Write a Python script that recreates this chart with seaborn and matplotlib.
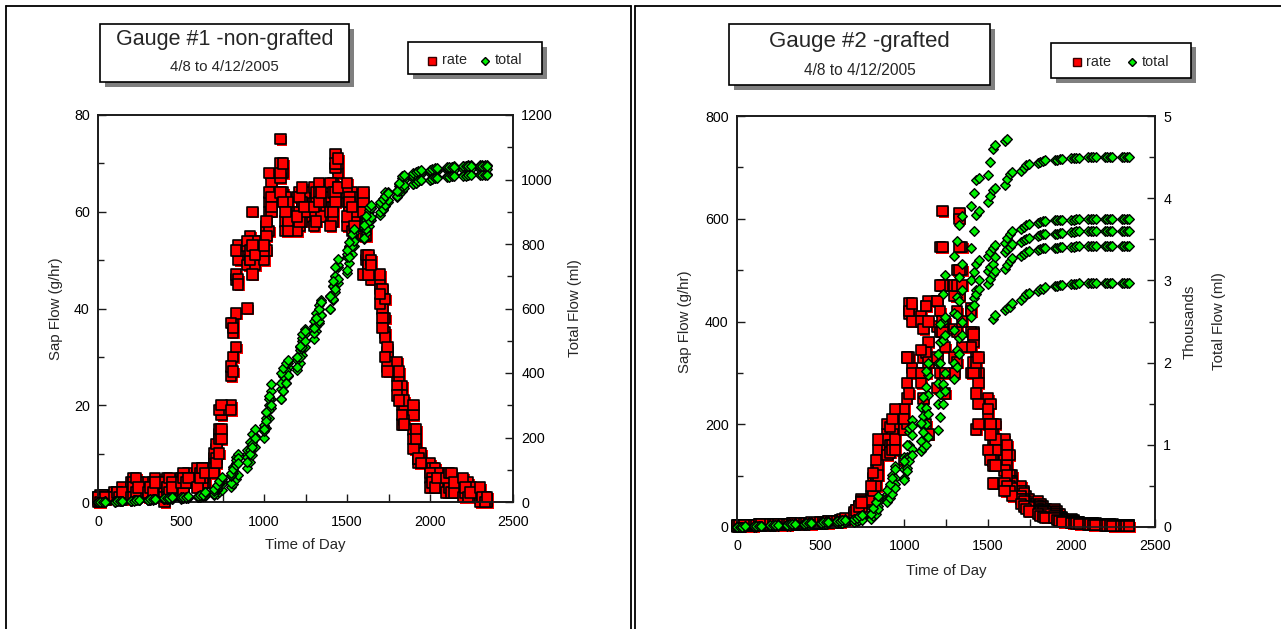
import numpy as np
import pandas as pd
import matplotlib
matplotlib.use("Agg")
import matplotlib.pyplot as plt
import matplotlib.patheffects as pe
from matplotlib.patches import Rectangle
from matplotlib.lines import Line2D
from matplotlib.ticker import MultipleLocator
import seaborn as sns

# ---------------- data (15-minute readings, time of day as HHMM) ----------------
TIMES = [0, 15, 30, 45, 100, 115, 130, 145, 200, 215, 230, 245,
         300, 315, 330, 345, 400, 415, 430, 445, 500, 515, 530, 545,
         600, 615, 630, 645, 700, 715, 730, 745, 800, 815, 830, 845,
         900, 915, 930, 945, 1000, 1015, 1030, 1045, 1100, 1115, 1130, 1145,
         1200, 1215, 1230, 1245, 1300, 1315, 1330, 1345, 1400, 1415, 1430, 1445,
         1500, 1515, 1530, 1545, 1600, 1615, 1630, 1645, 1700, 1715, 1730, 1745,
         1800, 1815, 1830, 1845, 1900, 1915, 1930, 1945, 2000, 2015, 2030, 2045,
         2100, 2115, 2130, 2145, 2200, 2215, 2230, 2245, 2300, 2315, 2330, 2345]

# Gauge #1 (non-grafted): sap flow rate, g/hr, one list per day
g1_rate_d1 = [1, 0.5, 1, 1.5, 1, 2, 1, 0.5, 2, 3, 2, 1.5,
              2, 1, 2, 3, 3, 4, 3, 2, 4, 3, 5, 4,
              5, 5, 6, 4, 8, 11, 14, 18, 26, 35, 46, 50,
              52, 50, 54, 52, 54, 57, 62, 66, 70, 64, 58, 60,
              60, 64, 62, 59, 62, 58, 60, 63, 63, 66, 72, 68,
              62, 60, 64, 58, 55, 50, 48, 46, 45, 40, 35, 30,
              28, 24, 20, 18, 15, 12, 9, 8, 7, 6, 5, 4,
              4, 3, 3, 2, 2, 2, 1, 1, 1, 1, 0.5, 0.5]
g1_rate_d2 = [0.5, 1, 0.5, 1, 2, 1, 2, 3, 4, 5, 4, 3,
              3, 2, 3, 4, 4, 5, 2, 3, 5, 4, 5, 6,
              6, 5, 4, 6, 9, 10, 15, 19, 20, 30, 47, 52,
              49, 55, 60, 53, 52, 56, 60, 64, 75, 68, 62, 57,
              57, 60, 62, 64, 65, 62, 60, 61, 66, 64, 69, 65,
              64, 62, 58, 61, 62, 57, 50, 48, 44, 42, 38, 31,
              26, 25, 24, 20, 18, 14, 10, 9, 8, 7, 7, 6,
              6, 5, 4, 3, 3, 2, 2, 1, 1, 1, 0, 0]
g1_rate_d3 = [1, 1.5, 1, 0.5, 1, 2, 1, 1.5, 3, 4, 3, 4,
              4, 3, 4, 5, 4, 3, 2, 4, 5, 6, 5, 4,
              4, 6, 7, 6, 10, 12, 19, 20, 28, 37, 39, 53,
              53, 50, 51, 49, 50, 52, 56, 60, 67, 63, 56, 58,
              63, 57, 58, 60, 60, 64, 66, 62, 59, 61, 64, 70,
              57, 60, 63, 59, 47, 51, 51, 47, 41, 38, 34, 28,
              24, 22, 16, 17, 13, 11, 8, 9, 5, 6, 4, 6,
              3, 4, 5, 3, 4, 2, 3, 2, 2, 1, 1, 0.5]
g1_rate_d4 = [0, 0.5, 1.5, 1, 1, 2, 0.5, 1, 2, 3, 5, 2,
              1, 2, 1, 1, 1, 3, 5, 4, 3, 2, 4, 5,
              7, 6, 5, 7, 7, 9, 13, 15, 37, 36, 52, 46,
              40, 50, 47, 54, 52, 55, 64, 63, 68, 70, 63, 62,
              56, 58, 62, 60, 57, 61, 64, 59, 60, 58, 62, 65,
              66, 63, 56, 60, 64, 55, 49, 50, 47, 44, 42, 32,
              29, 27, 22, 21, 20, 15, 9, 10, 6, 5, 4, 3,
              2, 3, 2, 2, 1, 2, 4, 3, 0, 1, 1, 0]
g1_rate_d5 = [1, 0, 0.5, 1, 1, 2, 1, 2, 1, 1, 2, 3,
              2, 3, 2, 4, 0, 1, 2, 3, 4, 5, 4, 5,
              3, 5, 7, 6, 6, 8, 10, 13, 19, 27, 32, 45,
              54, 52, 53, 51, 53, 58, 68, 61, 64, 62, 60, 56,
              59, 63, 65, 61, 61, 58, 62, 64, 57, 60, 70, 71,
              59, 62, 61, 57, 60, 58, 47, 49, 43, 36, 30, 27,
              22, 21, 18, 16, 11, 13, 9, 8, 3, 4, 3, 5,
              5, 6, 6, 4, 5, 3, 1, 2, 3, 1, 0, 1]

# Gauge #1: total flow, ml
g1_total_d1 = [0, 0, 1, 1, 2, 2, 3, 3, 4, 5, 5, 6,
               6, 7, 7, 8, 8, 9, 9, 10, 10, 11, 12, 13,
               15, 16, 18, 20, 22, 26, 30, 38, 45, 55, 70, 85,
               105, 125, 145, 170, 200, 230, 260, 290, 320, 345, 370, 390,
               410, 430, 455, 480, 505, 530, 555, 580, 600, 625, 650, 680,
               710, 740, 770, 795, 815, 835, 855, 875, 890, 905, 918, 930,
               945, 955, 965, 975, 985, 990, 995, 998, 1000, 1003, 1005, 1008,
               1010, 1011, 1012, 1013, 1014, 1015, 1015, 1016, 1016, 1016, 1016, 1016]
g1_total_d2 = [0, 1, 1, 2, 2, 3, 3, 4, 4, 5, 6, 6,
               7, 8, 8, 9, 10, 10, 11, 12, 12, 13, 14, 15,
               17, 19, 21, 24, 28, 38, 50, 55, 60, 90, 120, 135,
               150, 165, 185, 205, 230, 260, 300, 320, 350, 375, 400, 420,
               440, 470, 500, 520, 545, 570, 600, 620, 640, 670, 700, 730,
               760, 790, 815, 840, 860, 880, 900, 912, 925, 938, 950, 958,
               965, 980, 995, 1000, 1005, 1010, 1015, 1018, 1020, 1023, 1025, 1027,
               1028, 1029, 1030, 1031, 1032, 1032, 1033, 1033, 1034, 1034, 1034, 1034]
g1_total_d3 = [0, 0, 0, 1, 1, 2, 2, 3, 4, 5, 6, 6,
               7, 7, 8, 8, 9, 9, 10, 10, 11, 12, 13, 14,
               15, 16, 18, 21, 25, 40, 55, 65, 80, 110, 140, 150,
               160, 185, 210, 225, 240, 280, 320, 345, 370, 390, 410, 430,
               450, 480, 510, 535, 560, 585, 610, 625, 640, 670, 700, 735,
               770, 795, 820, 835, 850, 875, 905, 912, 920, 940, 960, 962,
               965, 985, 1005, 1008, 1010, 1015, 1020, 1022, 1025, 1028, 1030, 1033,
               1035, 1037, 1040, 1041, 1042, 1043, 1044, 1044, 1045, 1045, 1045, 1045]
g1_total_d4 = [0, 1, 1, 2, 2, 3, 3, 4, 4, 5, 5, 6,
               6, 7, 8, 9, 10, 11, 12, 13, 14, 15, 16, 17,
               20, 22, 25, 30, 35, 45, 60, 72, 85, 110, 130, 135,
               140, 160, 180, 200, 220, 250, 285, 300, 320, 345, 370, 395,
               420, 450, 480, 500, 525, 545, 560, 580, 600, 630, 660, 690,
               720, 760, 795, 808, 820, 845, 870, 885, 900, 910, 920, 935,
               950, 965, 980, 983, 985, 990, 995, 998, 1000, 1003, 1005, 1006,
               1007, 1008, 1010, 1011, 1012, 1012, 1013, 1013, 1013, 1014, 1014, 1014]
g1_total_d5 = [0, 0, 0, 1, 1, 2, 2, 3, 3, 4, 5, 6,
               7, 8, 9, 10, 11, 12, 13, 14, 15, 16, 17, 18,
               19, 21, 23, 30, 40, 52, 65, 78, 90, 102, 115, 120,
               125, 148, 170, 198, 225, 278, 330, 365, 400, 415, 430, 440,
               450, 485, 520, 530, 540, 570, 600, 620, 640, 685, 730, 755,
               780, 805, 830, 845, 860, 888, 915, 922, 930, 940, 950, 958,
               965, 988, 1010, 1015, 1020, 1023, 1025, 1028, 1030, 1033, 1035, 1037,
               1038, 1039, 1040, 1040, 1041, 1041, 1042, 1042, 1043, 1043, 1043, 1043]

# Gauge #2 (grafted): sap flow rate, g/hr (None = no reading on that day)
g2_rate_d1 = [None] * 62 + [200, 160,
                            170, 150, 140, 100, 80, 70, 60, 55, 50, 45, 40, 35,
                            35, 30, 25, 20, 15, 13, 10, 9, 8, 8, 7, 6,
                            6, 5, 5, 4, 4, 3, 3, 3]
g2_rate_d2 = [3, 2, 3, 4, 4, 3, 5, 4, 5, 4, 6, 5,
              6, 5, 7, 6, 7, 6, 8, 7, 8, 9, 10, 11,
              12, 13, 14, 16, 25, 32, 40, 55, 60, 95, 110, 150,
              150, 185, 200, 210, 230, 330, 435, 420, 410, 400, 430, 440,
              440, 545, 615, 470, 470, 500, 610, 545, 425, 380, 330, 300,
              250, 240, 180, 200, 150, 160, 100, 90, 70, 65, 50, 45,
              40, 38, 35, 30, 28, 25, 20, 18, 12, 11, 10, 9,
              8, 8, 7, 7, 6, 6, 5, 5, 4, 4, 3, 3]
g2_rate_d3 = [2, 3, 2, 3, 3, 4, 4, 3, 4, 5, 4, 5,
              5, 6, 5, 6, 6, 7, 6, 7, 8, 9, 9, 10,
              11, 12, 13, 15, 22, 28, 38, 50, 55, 80, 100, 130,
              180, 170, 190, 200, 200, 280, 415, 400, 280, 330, 340, 360,
              390, 420, 545, 400, 385, 420, 545, 500, 380, 360, 300, 280,
              220, 200, 160, 170, 130, 120, 90, 85, 60, 55, 45, 40,
              35, 33, 30, 28, 25, 22, 18, 15, 10, 10, 9, 8,
              7, 7, 6, 6, 5, 5, 4, 4, 4, 3, 3, 3]
g2_rate_d4 = [2, 2, 3, 2, 3, 3, 4, 3, 4, 4, 5, 4,
              5, 5, 6, 5, 6, 6, 7, 6, 7, 8, 9, 9,
              10, 11, 13, 14, 20, 26, 35, 45, 50, 70, 95, 120,
              170, 160, 160, 170, 190, 250, 330, 310, 345, 300, 300, 320,
              330, 380, 470, 350, 330, 380, 500, 400, 350, 320, 260, 240,
              200, 180, 140, 150, 110, 100, 80, 75, 55, 50, 40, 38,
              30, 29, 28, 25, 22, 18, 15, 13, 9, 9, 8, 7,
              6, 6, 5, 5, 4, 4, 4, 3, 3, 3, 2, 2]
g2_rate_d5 = [1, 1, 2, 2, 2, 3, 3, 3, 3, 4, 4, 4,
              4, 5, 5, 5, 5, 6, 6, 6, 7, 7, 8, 8,
              9, 10, 12, 13, 18, 24, 30, 40, 52, 70, 80, 100,
              140, 145, 150, 150, 130, 200, 260, 300, 300, 250, 200, 180,
              270, 300, 380, 260, 300, 320, 450, 350, 300, 300, 190, 200,
              150, 130, 120, 85, 85, 80, 70, 60, 45, 40, 35, 30,
              25, 22, 20, 18, 18, 14, 12, 10, 8, 8, 7, 6,
              5, 5, 4, 4, 3, 3, 3, 2, 2, 2, 2, 2]
g2_rate_d6 = [3, 3, 3, 4, 4, 4, 5, 5, 5, 5, 6, 6,
              6, 6, 7, 7, 7, 8, 8, 9, 9, 10, 10, 11,
              12, 14, 15, 17, 28, 32, 40, 48, 80, 105, 130, 170,
              200, 195, 210, 230, 210, 330, 420, 435, 400, 385, 430, 400,
              440, 470, 400, 300, 450, 470, 600, 470, 420, 375, 320, 330,
              230, 200, 85, 120, 70, 140] + [None] * 30

# Gauge #2: total flow, thousands of ml
g2_total_d1 = [None] * 62 + [2.53, 2.58,
                             2.64, 2.66, 2.68, 2.72, 2.76, 2.8, 2.83, 2.85, 2.87, 2.89, 2.9, 2.92,
                             2.93, 2.935, 2.94, 2.95, 2.96, 2.96, 2.96, 2.965, 2.97, 2.97, 2.97, 2.97,
                             2.97, 2.97, 2.97, 2.97, 2.97, 2.97, 2.97, 2.97]
g2_total_d2 = [0, 0.003, 0.005, 0.008, 0.01, 0.013, 0.015, 0.018, 0.02, 0.025, 0.03, 0.033,
               0.035, 0.038, 0.04, 0.045, 0.05, 0.053, 0.055, 0.058, 0.06, 0.065, 0.07, 0.075,
               0.08, 0.085, 0.09, 0.095, 0.1, 0.11, 0.12, 0.14, 0.16, 0.22, 0.3, 0.35,
               0.4, 0.5, 0.63, 0.74, 0.85, 1.0, 1.15, 1.3, 1.46, 1.58, 1.7, 1.85,
               2.0, 2.25, 2.5, 2.55, 2.6, 2.8, 3.04, 3.2, 3.4, 3.6, 3.79, 3.85,
               3.95, 4.03, 4.1, 4.13, 4.16, 4.23, 4.3, 4.32, 4.33, 4.37, 4.4, 4.42,
               4.43, 4.44, 4.45, 4.46, 4.47, 4.47, 4.48, 4.48, 4.49, 4.49, 4.49, 4.49,
               4.5, 4.5, 4.5, 4.5, 4.5, 4.5, 4.5, 4.5, 4.5, 4.5, 4.5, 4.5]
g2_total_d3 = [0, 0.002, 0.004, 0.006, 0.008, 0.01, 0.012, 0.014, 0.016, 0.018, 0.02, 0.023,
               0.025, 0.028, 0.03, 0.033, 0.035, 0.038, 0.04, 0.043, 0.045, 0.048, 0.05, 0.055,
               0.06, 0.065, 0.07, 0.075, 0.08, 0.09, 0.1, 0.12, 0.14, 0.2, 0.25, 0.3,
               0.35, 0.42, 0.5, 0.6, 0.7, 0.85, 1.0, 1.12, 1.25, 1.35, 1.45, 1.6,
               1.75, 2.0, 2.27, 2.33, 2.4, 2.58, 2.75, 2.88, 3.0, 3.1, 3.2, 3.25,
               3.3, 3.35, 3.4, 3.43, 3.45, 3.51, 3.57, 3.6, 3.62, 3.65, 3.67, 3.69,
               3.7, 3.71, 3.72, 3.72, 3.73, 3.73, 3.74, 3.74, 3.74, 3.74, 3.75, 3.75,
               3.75, 3.75, 3.75, 3.75, 3.75, 3.75, 3.75, 3.75, 3.75, 3.75, 3.75, 3.75]
g2_total_d4 = [0, 0.002, 0.003, 0.005, 0.006, 0.008, 0.01, 0.012, 0.013, 0.015, 0.016, 0.018,
               0.02, 0.022, 0.025, 0.028, 0.03, 0.032, 0.035, 0.038, 0.04, 0.042, 0.045, 0.048,
               0.05, 0.055, 0.06, 0.065, 0.07, 0.08, 0.09, 0.1, 0.12, 0.16, 0.2, 0.26,
               0.33, 0.39, 0.45, 0.52, 0.6, 0.72, 0.85, 0.95, 1.05, 1.15, 1.25, 1.38,
               1.5, 1.62, 1.74, 1.87, 2.0, 2.15, 2.3, 2.5, 2.68, 2.78, 2.88, 3.0,
               3.12, 3.16, 3.2, 3.28, 3.35, 3.38, 3.41, 3.44, 3.47, 3.49, 3.5, 3.52,
               3.54, 3.55, 3.56, 3.56, 3.57, 3.57, 3.58, 3.58, 3.59, 3.59, 3.6, 3.6,
               3.6, 3.6, 3.6, 3.6, 3.6, 3.6, 3.6, 3.6, 3.6, 3.6, 3.6, 3.6]
g2_total_d5 = [0, 0.001, 0.002, 0.004, 0.005, 0.006, 0.008, 0.009, 0.01, 0.012, 0.013, 0.015,
               0.016, 0.018, 0.02, 0.022, 0.025, 0.028, 0.03, 0.033, 0.035, 0.038, 0.04, 0.043,
               0.045, 0.048, 0.05, 0.055, 0.06, 0.07, 0.08, 0.09, 0.1, 0.13, 0.16, 0.22,
               0.3, 0.35, 0.4, 0.48, 0.57, 0.68, 0.8, 0.87, 0.93, 0.96, 1.0, 1.09,
               1.18, 1.34, 1.5, 1.65, 1.8, 1.95, 2.1, 2.33, 2.55, 2.7, 2.84, 2.9,
               2.96, 3.02, 3.08, 3.11, 3.14, 3.19, 3.24, 3.27, 3.3, 3.32, 3.34, 3.36,
               3.37, 3.38, 3.39, 3.4, 3.4, 3.4, 3.41, 3.41, 3.41, 3.41, 3.42, 3.42,
               3.42, 3.42, 3.42, 3.42, 3.42, 3.42, 3.42, 3.42, 3.42, 3.42, 3.42, 3.42]
g2_total_d6 = [0, 0.003, 0.005, 0.008, 0.01, 0.013, 0.015, 0.018, 0.02, 0.023, 0.025, 0.028,
               0.03, 0.033, 0.035, 0.038, 0.04, 0.043, 0.045, 0.048, 0.05, 0.055, 0.06, 0.065,
               0.07, 0.075, 0.08, 0.09, 0.1, 0.115, 0.13, 0.145, 0.16, 0.23, 0.3, 0.38,
               0.45, 0.52, 0.6, 0.7, 0.8, 1.0, 1.2, 1.23, 1.26, 1.58, 1.9, 2.0,
               2.1, 2.47, 2.84, 3.07, 3.3, 3.48, 3.67, 3.78, 3.9, 4.06, 4.22, 4.25,
               4.28, 4.44, 4.6, 4.65, 4.7, 4.72] + [None] * 30

X_TICKS = [0, 500, 1000, 1500, 2000, 2500]

# ---------------- style ----------------
sns.set_style("ticks")
plt.rcParams["font.family"] = ["Liberation Sans", "DejaVu Sans"]

W, H = 1281, 629
fig = plt.figure(figsize=(W / 100, H / 100), dpi=100)
fig.patch.set_facecolor("white")


def fx(px):
    return px / W


def fy(py):
    return 1 - py / H


def long_df(rates, totals):
    parts = []
    for d, (r, t) in enumerate(zip(rates, totals)):
        parts.append(pd.DataFrame({"time": TIMES,
                                   "rate": np.array(r, dtype=float),
                                   "total": np.array(t, dtype=float),
                                   "day": d}))
    return pd.concat(parts, ignore_index=True)


RED = "#ff0000"
GREEN = "#00f000"
SPINE = "#1a1a1a"
TICK_FS = 10.3
LABEL_FS = 10.8


def panel(rect, df, rate_lim, rate_major, rate_minor, tot_lim, tot_major, tot_minor,
          lab_left_x, lab_right_x, xlab_y, thousands_x=None):
    x0, y0, x1, y1 = rect
    ax = fig.add_axes([fx(x0), fy(y1), (x1 - x0) / W, (y1 - y0) / H])
    ax2 = ax.twinx()
    sns.scatterplot(data=df, x="time", y="rate", ax=ax, marker="s", s=56,
                    color=RED, edgecolor="black", linewidth=1.2, clip_on=False,
                    legend=False, zorder=3,
                    path_effects=[pe.SimplePatchShadow(offset=(1.1, -1.1),
                                                       shadow_rgbFace=RED, alpha=1.0),
                                  pe.Normal()])
    sns.scatterplot(data=df, x="time", y="total", ax=ax2, marker="D", s=24,
                    color=GREEN, edgecolor="black", linewidth=1.0, clip_on=False,
                    legend=False, zorder=4)
    ax.set_xlim(0, 2500)
    ax.set_ylim(*rate_lim)
    ax2.set_ylim(*tot_lim)
    ax.set_xticks(X_TICKS)
    ax.xaxis.set_minor_locator(MultipleLocator(250))
    ax.yaxis.set_major_locator(MultipleLocator(rate_major))
    ax.yaxis.set_minor_locator(MultipleLocator(rate_minor))
    ax2.yaxis.set_major_locator(MultipleLocator(tot_major))
    ax2.yaxis.set_minor_locator(MultipleLocator(tot_minor))

    ax.tick_params(axis="both", which="both", direction="in", top=False, right=False,
                   color=SPINE, width=1.0, labelsize=TICK_FS, labelcolor="black")
    ax.tick_params(axis="x", which="both", length=6, pad=9)
    ax.tick_params(axis="y", which="major", length=6, pad=6)
    ax.tick_params(axis="y", which="minor", length=4.3)
    ax2.tick_params(axis="y", which="both", direction="in", left=False, right=True,
                    color=SPINE, width=1.0, labelsize=TICK_FS, labelcolor="black", pad=6)
    ax2.tick_params(axis="y", which="major", length=6)
    ax2.tick_params(axis="y", which="minor", length=4.3)

    for a in (ax, ax2):
        for sp in a.spines.values():
            sp.set_visible(True)
            sp.set_linewidth(1.2)
            sp.set_color(SPINE)
    ax.set_facecolor("white")

    w, h = x1 - x0, y1 - y0
    ax.set_xlabel("Time of Day", fontsize=LABEL_FS, va="center")
    ax.xaxis.set_label_coords(0.5, (y1 - xlab_y) / h)
    ax.set_ylabel("Sap Flow (g/hr)", fontsize=LABEL_FS, va="center", rotation=90)
    ax.yaxis.set_label_coords((lab_left_x - x0) / w, 0.5)
    ax2.set_ylabel("Total Flow (ml)", fontsize=LABEL_FS, va="center", rotation=90)
    ax2.yaxis.set_label_coords((lab_right_x - x0) / w, 0.5)
    if thousands_x is not None:
        ax2.text((thousands_x - x0) / w, 0.5, "Thousands", transform=ax2.transAxes,
                 rotation=90, ha="center", va="center", fontsize=LABEL_FS,
                 rotation_mode="anchor")
    return ax, ax2


def shadow_box(x0, y0, x1, y1, off):
    fig.add_artist(Rectangle((fx(x0 + off), fy(y1 + off)), (x1 - x0) / W, (y1 - y0) / H,
                             transform=fig.transFigure, facecolor="#7f7f7f",
                             edgecolor="none", zorder=5))
    fig.add_artist(Rectangle((fx(x0), fy(y1)), (x1 - x0) / W, (y1 - y0) / H,
                             transform=fig.transFigure, facecolor="white",
                             edgecolor="black", linewidth=1.2, zorder=6))


def legend_items(sq_x, dia_x, rate_x, tot_x, y):
    fig.add_artist(Line2D([fx(sq_x)], [fy(y)], transform=fig.transFigure, marker="s",
                          markersize=6.3, markerfacecolor=RED, markeredgecolor="#3a0000",
                          markeredgewidth=1.0, linestyle="none", zorder=7))
    fig.add_artist(Line2D([fx(dia_x)], [fy(y)], transform=fig.transFigure, marker="D",
                          markersize=4.2, markerfacecolor=GREEN, markeredgecolor="black",
                          markeredgewidth=1.0, linestyle="none", zorder=7))
    fig.text(fx(rate_x), fy(y), "rate", ha="left", va="center", fontsize=10.4, zorder=7)
    fig.text(fx(tot_x), fy(y), "total", ha="left", va="center", fontsize=10.4, zorder=7)


# ---------------- panel frames ----------------
FRAME_LW = 1.3
for xs, ys in [([6, 6], [6, 629]), ([6, 631], [6, 6]), ([631, 631], [6, 629]),
               ([635, 635], [6, 629]), ([635, 1281], [6, 6])]:
    fig.add_artist(Line2D([fx(v) for v in xs], [fy(v) for v in ys],
                          transform=fig.transFigure, color="black", lw=FRAME_LW, zorder=8))

# ---------------- Gauge #1 ----------------
df1 = long_df([g1_rate_d1, g1_rate_d2, g1_rate_d3, g1_rate_d4, g1_rate_d5],
              [g1_total_d1, g1_total_d2, g1_total_d3, g1_total_d4, g1_total_d5])
panel((98, 115, 513, 502), df1, (0, 80), 20, 10, (0, 1200), 200, 100,
      lab_left_x=56, lab_right_x=575, xlab_y=545)

shadow_box(100, 24, 349, 82, 5)
fig.text(fx(224.5), fy(39.5), "Gauge #1 -non-grafted", ha="center", va="center",
         fontsize=15.5, zorder=7)
fig.text(fx(224.5), fy(67), "4/8 to 4/12/2005", ha="center", va="center",
         fontsize=10.8, zorder=7)
shadow_box(408, 42, 542, 74, 4.5)
legend_items(432, 485, 442, 495, 60.5)

# ---------------- Gauge #2 ----------------
df2 = long_df([g2_rate_d1, g2_rate_d2, g2_rate_d3, g2_rate_d4, g2_rate_d5, g2_rate_d6],
              [g2_total_d1, g2_total_d2, g2_total_d3, g2_total_d4, g2_total_d5, g2_total_d6])
panel((737, 116, 1155, 527), df2, (0, 800), 200, 100, (0, 5), 1, 0.5,
      lab_left_x=685, lab_right_x=1219, xlab_y=571, thousands_x=1190)

shadow_box(729, 24, 990, 85, 5)
fig.text(fx(859.5), fy(41), "Gauge #2 -grafted", ha="center", va="center",
         fontsize=16, zorder=7)
fig.text(fx(859.5), fy(70.5), "4/8 to 4/12/2005", ha="center", va="center",
         fontsize=11.2, zorder=7)
shadow_box(1051, 43, 1191, 78, 4.5)
legend_items(1077, 1132, 1086, 1142, 62)

fig.savefig("out.png", dpi=100, facecolor="white")
